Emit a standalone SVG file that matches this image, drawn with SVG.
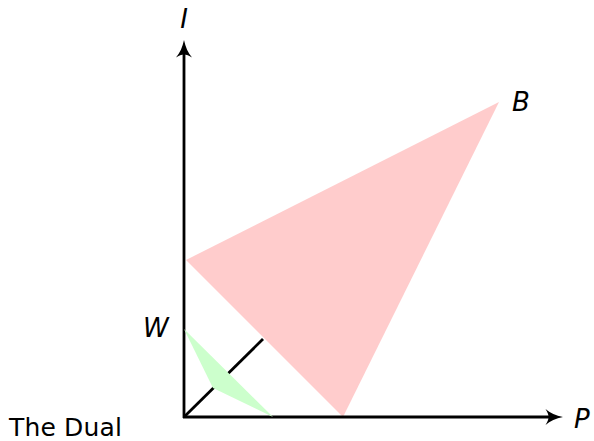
<svg xmlns="http://www.w3.org/2000/svg" width="594" height="441" viewBox="0 0 594 441">
<style>
.lbl{font-family:"DejaVu Sans",sans-serif;font-size:26px;font-style:italic;fill:#000}
.ax{stroke:#000;stroke-width:2.8;fill:none}
.head{fill:#000;stroke:none}
</style>
<rect width="594" height="441" fill="#fff"/>
<g id="region-B">
<polygon points="186,260 499,102 343,417" fill="#ffcccc"/>
</g>
<g id="connectors">
<line class="ax" x1="184" y1="417" x2="263" y2="339"/>
<line class="ax" x1="184" y1="418" x2="184" y2="48"/>
<line class="ax" x1="183" y1="417" x2="555" y2="417"/>
<path class="head" d="M184,40 C185.5,47 188,53 192,57.5 C189,55.5 186.5,54.5 184,54.5 C181.5,54.5 179,55.5 176,57.5 C180,53 182.5,47 184,40 Z"/>
<path class="head" d="M563,417 C556,418.5 550,421 545.5,425 C547.5,422 548.5,419.5 548.5,417 C548.5,414.5 547.5,412 545.5,409 C550,413 556,415.5 563,417 Z"/>
</g>
<g id="region-W">
<polygon points="184,329 273,417 213,388" fill="#ccffcc"/>
</g>
<g id="labels">
<text class="lbl" x="184" y="28" text-anchor="middle">I</text>
<text class="lbl" x="512" y="111">B</text>
<text class="lbl" x="574" y="428">P</text>
<text class="lbl" x="143" y="337">W</text>
<text x="9" y="436" style="font-family:'DejaVu Sans',sans-serif;font-size:25px" textLength="113">The Dual</text>
</g>
</svg>
